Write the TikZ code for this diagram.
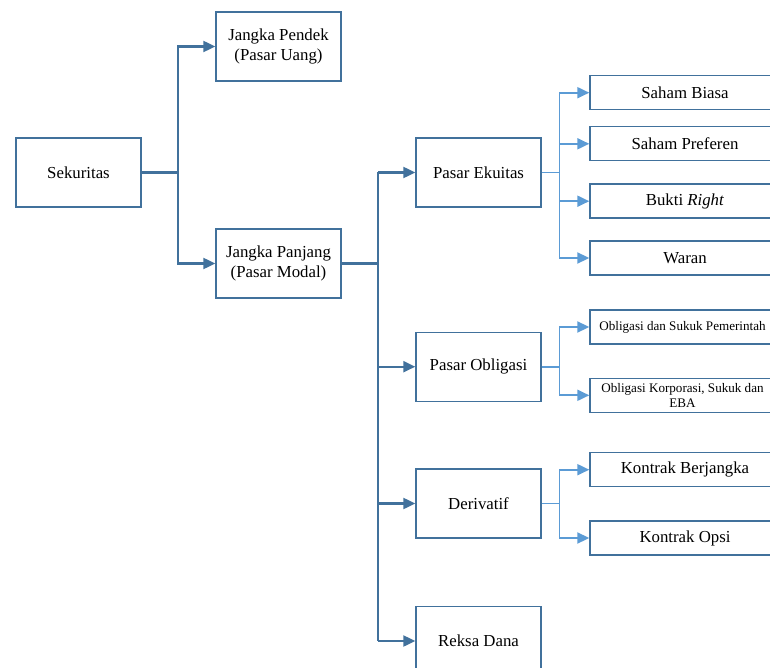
\documentclass[tikz,border=0pt]{standalone}
\usepackage{fontspec}
\setmainfont{Liberation Serif}
\usetikzlibrary{arrows.meta,positioning}
\definecolor{dkblue}{HTML}{41719C}
\definecolor{ltblue}{HTML}{5B9BD5}
\begin{document}
\begin{tikzpicture}[x=1pt,y=-1pt,
  box/.style={draw=dkblue,line width=1.4pt,fill=white,minimum width=125pt,minimum height=69pt,
    align=center,inner sep=2pt,font=\fontsize{16.8}{20}\selectfont},
  cbox/.style={draw=dkblue,line width=1.4pt,fill=white,minimum width=190pt,minimum height=34pt,
    align=center,inner sep=1pt,font=\fontsize{16.8}{20}\selectfont},
  sbox/.style={cbox,font=\fontsize{13.1}{15}\selectfont},
  dk/.style={draw=dkblue,line width=2.2pt},
  dka/.style={dk,-{Triangle[length=12pt,width=11pt]}},
  lt/.style={draw=ltblue,line width=1.9pt},
  lta/.style={lt,-{Triangle[length=12pt,width=11pt]}}]
\useasboundingbox (0,0) rectangle (770,668);
\clip (0,0) rectangle (770,668);
% level 0/1
\node[box] (sek) at (78.5,172.5) {Sekuritas};
\node[box] (pendek) at (278.5,46.5) {Jangka Pendek\\(Pasar Uang)};
\node[box] (panjang) at (278.5,263.5) {Jangka Panjang\\(Pasar Modal)};
% level 2
\node[box] (ekuitas) at (478.5,172.5) {Pasar Ekuitas};
\node[box] (oblig) at (478.5,366.7) {Pasar Obligasi};
\node[box] (deriv) at (478.5,503.5) {Derivatif};
\node[box] (reksa) at (478.5,641) {Reksa Dana};
% level 3
\node[cbox] (biasa) at (685,92.7) {Saham Biasa};
\node[cbox] (pref) at (685,143.8) {Saham Preferen};
\node[cbox] (bukti) at (685,201.2) {Bukti \textit{Right}};
\node[cbox] (waran) at (685,258) {Waran};
\node[sbox] (pem) at (685,327) {};
\node[font=\fontsize{13.1}{15}\selectfont,inner sep=0pt] (pemt) at (682.5,327) {Obligasi dan Sukuk Pemerintah};
\node[sbox] (korp) at (685,395.3) {};
\node[font=\fontsize{13.1}{15}\selectfont,inner sep=0pt,align=center] (korpt) at (682.5,395.3) {Obligasi Korporasi, Sukuk dan\\EBA};
\node[cbox] (berj) at (685,469.7) {Kontrak Berjangka};
\node[cbox] (opsi) at (685,538) {Kontrak Opsi};
% connectors level 1
\coordinate (j1) at (178,172.5);
\draw[dk] (sek.east) -- (j1);
\draw[dka] (j1) |- (pendek.west);
\draw[dka] (j1) |- (panjang.west);
% trunk
\coordinate (tr) at (378,0);
\draw[dk] (panjang.east) -- (tr |- panjang.east);
\draw[dk] (tr |- ekuitas.west) -- (tr |- reksa.west);
\draw[dka] (tr |- ekuitas.west) -- (ekuitas.west);
\draw[dka] (tr |- oblig.west) -- (oblig.west);
\draw[dka] (tr |- deriv.west) -- (deriv.west);
\draw[dka] (tr |- reksa.west) -- (reksa.west);
% level 3 connectors
\coordinate (t2) at (559.5,0);
\draw[lt] (ekuitas.east) -- (t2 |- ekuitas.east);
\foreach \n in {biasa,pref,bukti,waran}
  \draw[lta] (t2 |- ekuitas.east) |- (\n.west);
\draw[lt] (oblig.east) -- (t2 |- oblig.east);
\draw[lta] (t2 |- oblig.east) |- (pem.west);
\draw[lta] (t2 |- oblig.east) |- (korp.west);
\draw[lt] (deriv.east) -- (t2 |- deriv.east);
\draw[lta] (t2 |- deriv.east) |- (berj.west);
\draw[lta] (t2 |- deriv.east) |- (opsi.west);
\end{tikzpicture}
\end{document}
